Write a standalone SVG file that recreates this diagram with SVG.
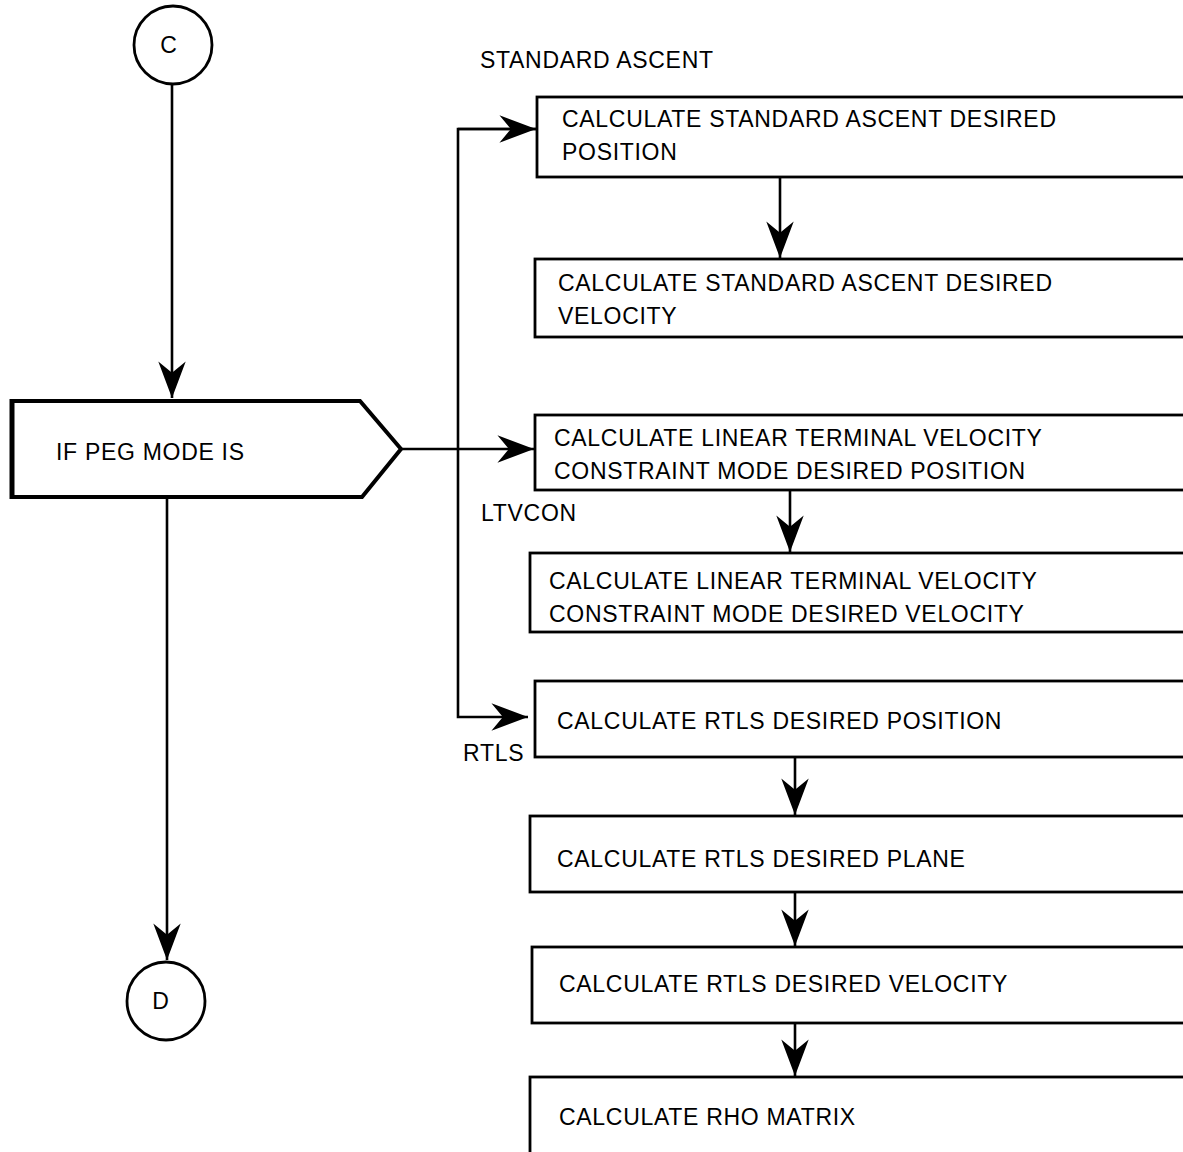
<svg xmlns="http://www.w3.org/2000/svg" width="1183" height="1152" viewBox="0 0 1183 1152">
<defs>
<marker id="ah" markerUnits="userSpaceOnUse" markerWidth="40" markerHeight="30" viewBox="-33 -13 35 26" refX="0" refY="0" orient="auto">
<path d="M0,0 L-32,-12 L-22,0 L-32,12 Z" fill="#000"/>
</marker>
</defs>
<style>
text{font-family:"Liberation Sans",Arial,sans-serif;font-size:23px;letter-spacing:0.7px;fill:#000}
.box{fill:#fff;stroke:#000;stroke-width:2.8}
.conn{fill:none;stroke:#000;stroke-width:2.6}
</style>
<rect width="1183" height="1152" fill="#fff"/>
<g id="connectors">
<path class="conn" d="M172,85 V398" marker-end="url(#ah)"/>
<path class="conn" d="M167,497 V960" marker-end="url(#ah)"/>
<path class="conn" d="M401,449 H534" marker-end="url(#ah)"/>
<path class="conn" d="M536,129 H458 V717 H528" marker-end="url(#ah)"/>
<path class="conn" d="M458,129 H536" marker-end="url(#ah)"/>
<path class="conn" d="M780,177 V258" marker-end="url(#ah)"/>
<path class="conn" d="M790,490 V552" marker-end="url(#ah)"/>
<path class="conn" d="M795,757 V815" marker-end="url(#ah)"/>
<path class="conn" d="M795,892 V946" marker-end="url(#ah)"/>
<path class="conn" d="M795,1023 V1076" marker-end="url(#ah)"/>
</g>
<g id="node-c">
<circle cx="173" cy="45" r="39" fill="#fff" stroke="#000" stroke-width="2.8"/>
<text x="169" y="53" text-anchor="middle">C</text>
</g>
<g id="node-d">
<circle cx="166" cy="1001" r="39" fill="#fff" stroke="#000" stroke-width="2.8"/>
<text x="161" y="1009" text-anchor="middle">D</text>
</g>
<g id="node-peg">
<path d="M12,401 L360,401 L401,449 L362,497 L12,497 Z" fill="#fff" stroke="#000" stroke-width="4"/>
<line x1="12" y1="399" x2="12" y2="499" stroke="#000" stroke-width="5"/>
<text x="56" y="460">IF PEG MODE IS</text>
</g>
<g id="label-standard"><text x="480" y="68">STANDARD ASCENT</text></g>
<g id="label-ltvcon"><text x="481" y="521">LTVCON</text></g>
<g id="label-rtls"><text x="463" y="761">RTLS</text></g>
<g id="box1">
<rect class="box" x="537" y="97" width="660" height="80"/>
<text x="562" y="127">CALCULATE STANDARD ASCENT DESIRED</text>
<text x="562" y="160">POSITION</text>
</g>
<g id="box2">
<rect class="box" x="535" y="259" width="660" height="78"/>
<text x="558" y="291">CALCULATE STANDARD ASCENT DESIRED</text>
<text x="558" y="324">VELOCITY</text>
</g>
<g id="box3">
<rect class="box" x="535" y="415" width="660" height="75"/>
<text x="554" y="446">CALCULATE LINEAR TERMINAL VELOCITY</text>
<text x="554" y="479">CONSTRAINT MODE DESIRED POSITION</text>
</g>
<g id="box4">
<rect class="box" x="530" y="553" width="665" height="79"/>
<text x="549" y="589">CALCULATE LINEAR TERMINAL VELOCITY</text>
<text x="549" y="622">CONSTRAINT MODE DESIRED VELOCITY</text>
</g>
<g id="box5">
<rect class="box" x="535" y="681" width="660" height="76"/>
<text x="557" y="729">CALCULATE RTLS DESIRED POSITION</text>
</g>
<g id="box6">
<rect class="box" x="530" y="816" width="665" height="76"/>
<text x="557" y="867">CALCULATE RTLS DESIRED PLANE</text>
</g>
<g id="box7">
<rect class="box" x="532" y="947" width="663" height="76"/>
<text x="559" y="992">CALCULATE RTLS DESIRED VELOCITY</text>
</g>
<g id="box8">
<rect class="box" x="530" y="1077" width="665" height="90"/>
<text x="559" y="1125">CALCULATE RHO MATRIX</text>
</g>
</svg>
